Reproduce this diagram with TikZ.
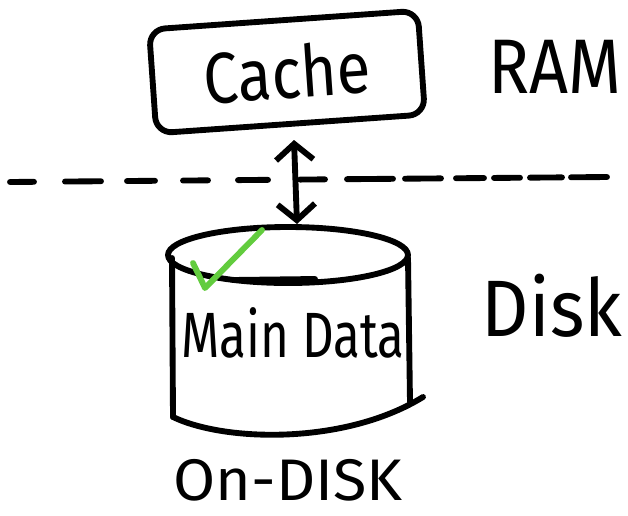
\documentclass[tikz,border=0pt]{standalone}
\usepackage{fontspec}
\setmainfont{Fira Sans}
\usetikzlibrary{arrows.meta}
\definecolor{tickgreen}{RGB}{98,204,62}
\begin{document}
\begin{tikzpicture}[x=0.75pt,y=-0.75pt,
  ink/.style={line width=4.4pt, line cap=round, line join=round},
  word/.style={inner sep=0pt, outer sep=0pt},
  barb/.tip={Straight Barb[length=12pt,width=28pt,line width=4.4pt]}]
\useasboundingbox (0,0) rectangle (628,515);

% RAM side: the cache box
\node[ink, draw, rounded corners=12pt, minimum width=202pt, minimum height=78pt,
      rotate=4, inner sep=0pt, font=\fontsize{54}{54}\selectfont]
  (cache) at (287,72) {\scalebox{0.86}[1]{Cache}};
\node[word, font=\fontsize{58}{58}\selectfont] (ram) at (555,67) {\scalebox{0.88}[1]{RAM}};

% boundary between memory and disk
\foreach \a/\b in {10/34,65/101,127/155,183/208,238/268,300/325,347/393,405/441,456/484,494/520,530/562,571/607}
  \draw[ink] (\a,{182-5*(\a-10)/597}) -- (\b,{182-5*(\b-10)/597});

% Disk side: the main data cylinder
\coordinate (cyltop) at (297,224);
\draw[ink] (288,255) ellipse [x radius=120, y radius=28];
\draw[ink] (233,280) -- (315,279);
\draw[ink] (172,258) -- (173,417);
\draw[ink] (408,258) -- (410,402);
\draw[ink] (173,417) .. controls (225,442) and (345,445) .. (423,397);
\node[word, font=\fontsize{48}{48}\selectfont] (maindata) at (293,333) {\scalebox{0.77}[1]{Main Data}};
\node[word, font=\fontsize{60}{60}\selectfont] (disk) at (552,306) {\scalebox{0.92}[1]{Disk}};
\node[word, font=\fontsize{44}{44}\selectfont] (ondisk) at (288,480) {\scalebox{1.04}[1]{On-DISK}};

% check mark on the cylinder lid
\draw[ink, tickgreen] (193,263) -- (205,288) -- (262,230);

% transfer between cache and disk
\coordinate (arrtop) at (294,140);
\draw[ink, {barb}-{barb}] (arrtop) -- (cyltop);
\end{tikzpicture}
\end{document}
